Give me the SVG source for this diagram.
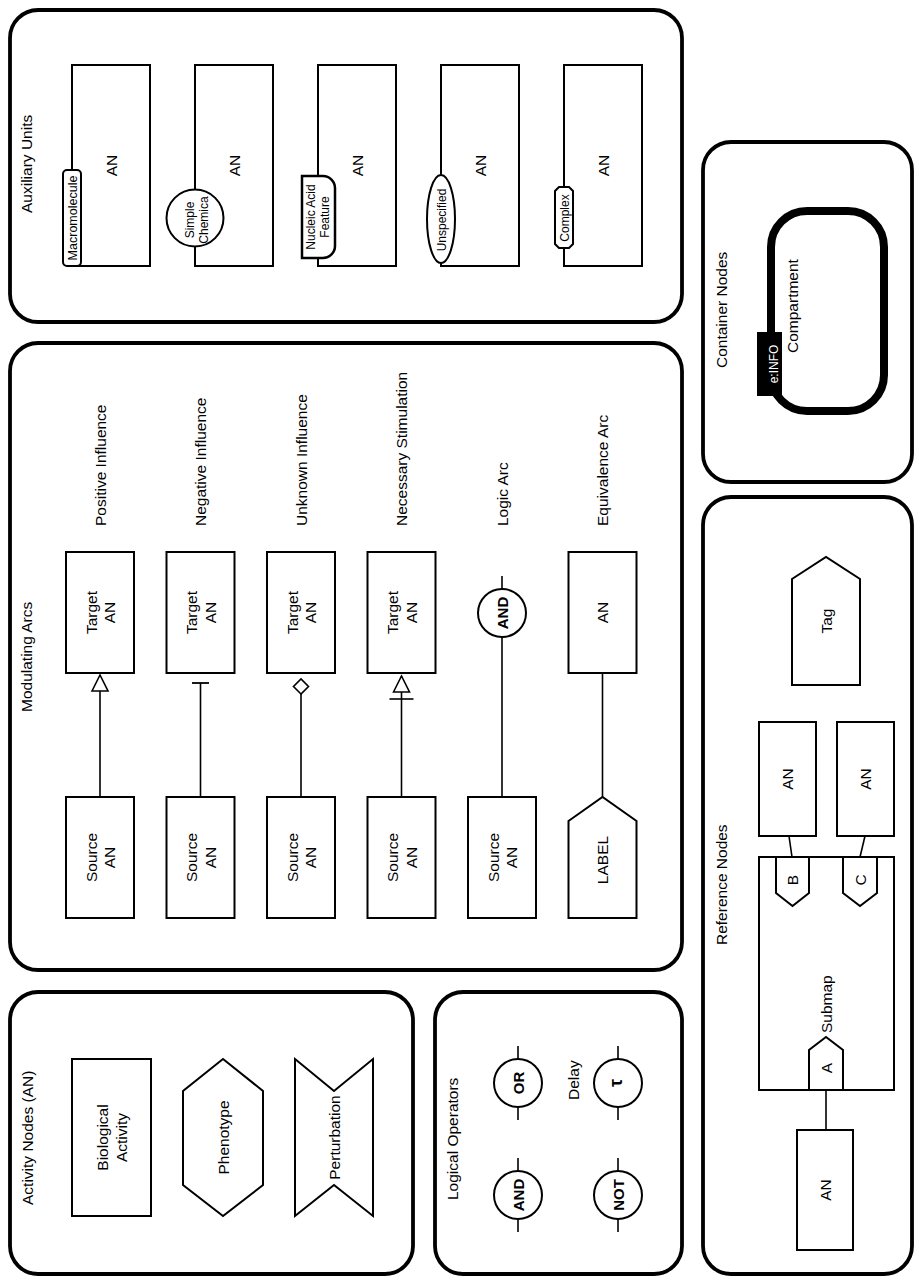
<svg xmlns="http://www.w3.org/2000/svg" width="916" height="1282" viewBox="0 0 916 1282">
<defs>
<style>
.panel{fill:none;stroke:#000;stroke-width:3.8}
.box{fill:#fff;stroke:#000;stroke-width:2}
.aux{fill:#fff;stroke:#000;stroke-width:2}
.ln{fill:none;stroke:#000;stroke-width:1.6}
.t{font-family:"Liberation Sans",Arial,sans-serif;font-size:15.5px;fill:#000}
.s{font-family:"Liberation Sans",Arial,sans-serif;font-size:12px;fill:#000}
.b{font-family:"Liberation Sans",Arial,sans-serif;font-size:15px;font-weight:bold;fill:#000}
</style>
<marker id="tri" markerUnits="userSpaceOnUse" viewBox="0 0 20 20" markerWidth="20" markerHeight="20" refX="18" refY="10" orient="auto"><path d="M2,2 L18,10 L2,18 Z" fill="#fff" stroke="#000" stroke-width="1.6"/></marker>
<marker id="bar" markerUnits="userSpaceOnUse" viewBox="0 0 20 20" markerWidth="20" markerHeight="20" refX="10" refY="10" orient="auto"><path d="M10,1.5 L10,18.5" fill="none" stroke="#000" stroke-width="1.8"/></marker>
<marker id="dia" markerUnits="userSpaceOnUse" viewBox="0 0 20 20" markerWidth="20" markerHeight="20" refX="17.5" refY="10" orient="auto"><path d="M2.5,10 L10,2.5 L17.5,10 L10,17.5 Z" fill="#fff" stroke="#000" stroke-width="1.6"/></marker>
<marker id="nec" markerUnits="userSpaceOnUse" viewBox="0 0 30 30" markerWidth="30" markerHeight="30" refX="28" refY="15" orient="auto"><path d="M5,3 L5,27" fill="none" stroke="#000" stroke-width="1.6"/><path d="M12,7 L28,15 L12,23 Z" fill="#fff" stroke="#000" stroke-width="1.6"/></marker>
</defs>
<rect width="916" height="1282" fill="#fff"/>

<g id="panels">
<rect class="panel" x="10" y="10" width="672" height="312" rx="28"/>
<rect class="panel" x="10" y="343" width="672" height="627" rx="28"/>
<rect class="panel" x="10" y="992" width="403" height="282" rx="28"/>
<rect class="panel" x="435" y="992" width="247" height="282" rx="28"/>
<rect class="panel" x="703" y="142" width="209" height="340" rx="28"/>
<rect class="panel" x="703" y="497" width="209" height="777" rx="28"/>
<text class="t" transform="translate(32,213) rotate(-90)">Auxiliary Units</text>
<text class="t" transform="translate(32,712) rotate(-90)">Modulating Arcs</text>
<text class="t" transform="translate(32.5,1205) rotate(-90)">Activity Nodes (AN)</text>
<text class="t" transform="translate(458,1200) rotate(-90)">Logical Operators</text>
<text class="t" transform="translate(727,368) rotate(-90)">Container Nodes</text>
<text class="t" transform="translate(727,945) rotate(-90)">Reference Nodes</text>
</g>

<g id="connectors">
<line class="ln" x1="100" y1="797" x2="100" y2="675" marker-end="url(#tri)"/>
<line class="ln" x1="200.5" y1="797" x2="200.5" y2="683" marker-end="url(#bar)"/>
<line class="ln" x1="301" y1="797" x2="301" y2="679" marker-end="url(#dia)"/>
<line class="ln" x1="401.5" y1="797" x2="401.5" y2="676" marker-end="url(#nec)"/>
<line class="ln" x1="502" y1="797" x2="502" y2="637"/>
<line class="ln" x1="502" y1="589" x2="502" y2="576"/>
<line class="ln" x1="602.5" y1="673" x2="602.5" y2="797"/>
<line class="ln" x1="518" y1="1046" x2="518" y2="1059"/>
<line class="ln" x1="518" y1="1107" x2="518" y2="1120"/>
<line class="ln" x1="518" y1="1158" x2="518" y2="1171"/>
<line class="ln" x1="518" y1="1219" x2="518" y2="1232"/>
<line class="ln" x1="618" y1="1046" x2="618" y2="1059"/>
<line class="ln" x1="618" y1="1107" x2="618" y2="1120"/>
<line class="ln" x1="618" y1="1158" x2="618" y2="1171"/>
<line class="ln" x1="618" y1="1219" x2="618" y2="1232"/>
<line class="ln" x1="789" y1="836" x2="792" y2="857"/>
<line class="ln" x1="865" y1="836" x2="860" y2="857"/>
<line class="ln" x1="826" y1="1090" x2="826" y2="1130"/>
</g>

<g id="aux-macromolecule">
<rect class="box" x="72" y="65" width="78" height="201"/>
<text class="t" text-anchor="middle" transform="translate(116.5,165.5) rotate(-90)">AN</text>
<rect class="aux" x="63" y="170" width="18" height="96" rx="4"/>
<text class="s" text-anchor="middle" style="font-size:12.5px" transform="translate(76.5,218) rotate(-90)">Macromolecule</text>
</g>
<g id="aux-simple-chemical">
<rect class="box" x="195" y="65" width="78" height="201"/>
<text class="t" text-anchor="middle" transform="translate(239.5,165.5) rotate(-90)">AN</text>
<circle class="aux" cx="195" cy="218" r="28.5"/>
<text class="s" text-anchor="middle" transform="translate(195,220) rotate(-90)"><tspan x="0" y="-1">Simple</tspan><tspan x="0" y="12.5">Chemica</tspan></text>
</g>
<g id="aux-nucleic-acid">
<rect class="box" x="318" y="65" width="78" height="201"/>
<text class="t" text-anchor="middle" transform="translate(362.5,165.5) rotate(-90)">AN</text>
<path class="aux" style="stroke-width:2.5" d="M302,176 H323 A12,12 0 0 1 335,188 V246 A12,12 0 0 1 323,258 H302 Z"/>
<text class="s" text-anchor="middle" transform="translate(318,217) rotate(-90)"><tspan x="0" y="-3">Nucleic Acid</tspan><tspan x="0" y="11">Feature</tspan></text>
</g>
<g id="aux-unspecified">
<rect class="box" x="441" y="65" width="78" height="201"/>
<text class="t" text-anchor="middle" transform="translate(485.5,165.5) rotate(-90)">AN</text>
<ellipse class="aux" cx="441" cy="219" rx="14" ry="44"/>
<text class="s" text-anchor="middle" transform="translate(445.5,220) rotate(-90)">Unspecified</text>
</g>
<g id="aux-complex">
<rect class="box" x="564" y="65" width="78" height="201"/>
<text class="t" text-anchor="middle" transform="translate(608.5,165.5) rotate(-90)">AN</text>
<polygon class="aux" points="559,187 569,187 573,191 573,244 569,248 559,248 555,244 555,191"/>
<text class="s" text-anchor="middle" transform="translate(568.5,218) rotate(-90)">Complex</text>
</g>

<g id="arc-positive">
<rect class="box" x="66" y="552" width="68" height="121"/>
<text class="t" text-anchor="middle" transform="translate(100,612.5) rotate(-90)"><tspan x="0" y="-3.5">Target</tspan><tspan x="0" y="15">AN</tspan></text>
<rect class="box" x="66" y="797" width="68" height="121"/>
<text class="t" text-anchor="middle" transform="translate(100,857.5) rotate(-90)"><tspan x="0" y="-3.5">Source</tspan><tspan x="0" y="15">AN</tspan></text>
<text class="t" transform="translate(105.5,526) rotate(-90)">Positive Influence</text>
</g>
<g id="arc-negative">
<rect class="box" x="166.5" y="552" width="68" height="121"/>
<text class="t" text-anchor="middle" transform="translate(200.5,612.5) rotate(-90)"><tspan x="0" y="-3.5">Target</tspan><tspan x="0" y="15">AN</tspan></text>
<rect class="box" x="166.5" y="797" width="68" height="121"/>
<text class="t" text-anchor="middle" transform="translate(200.5,857.5) rotate(-90)"><tspan x="0" y="-3.5">Source</tspan><tspan x="0" y="15">AN</tspan></text>
<text class="t" transform="translate(206,526) rotate(-90)">Negative Influence</text>
</g>
<g id="arc-unknown">
<rect class="box" x="267" y="552" width="68" height="121"/>
<text class="t" text-anchor="middle" transform="translate(301,612.5) rotate(-90)"><tspan x="0" y="-3.5">Target</tspan><tspan x="0" y="15">AN</tspan></text>
<rect class="box" x="267" y="797" width="68" height="121"/>
<text class="t" text-anchor="middle" transform="translate(301,857.5) rotate(-90)"><tspan x="0" y="-3.5">Source</tspan><tspan x="0" y="15">AN</tspan></text>
<text class="t" transform="translate(306.5,526) rotate(-90)">Unknown Influence</text>
</g>
<g id="arc-necessary">
<rect class="box" x="367.5" y="552" width="68" height="121"/>
<text class="t" text-anchor="middle" transform="translate(401.5,612.5) rotate(-90)"><tspan x="0" y="-3.5">Target</tspan><tspan x="0" y="15">AN</tspan></text>
<rect class="box" x="367.5" y="797" width="68" height="121"/>
<text class="t" text-anchor="middle" transform="translate(401.5,857.5) rotate(-90)"><tspan x="0" y="-3.5">Source</tspan><tspan x="0" y="15">AN</tspan></text>
<text class="t" transform="translate(407,526) rotate(-90)">Necessary Stimulation</text>
</g>
<g id="arc-logic">
<circle class="box" cx="502" cy="613" r="24"/>
<text class="b" text-anchor="middle" transform="translate(507.5,613) rotate(-90)">AND</text>
<rect class="box" x="468" y="797" width="68" height="121"/>
<text class="t" text-anchor="middle" transform="translate(502,857.5) rotate(-90)"><tspan x="0" y="-3.5">Source</tspan><tspan x="0" y="15">AN</tspan></text>
<text class="t" transform="translate(507.5,526) rotate(-90)">Logic Arc</text>
</g>
<g id="arc-equivalence">
<rect class="box" x="568.5" y="552" width="68" height="121"/>
<text class="t" text-anchor="middle" transform="translate(608,612.5) rotate(-90)">AN</text>
<polygon class="box" points="568.5,821 602.5,797 636.5,821 636.5,918 568.5,918"/>
<text class="t" text-anchor="middle" transform="translate(608,860) rotate(-90)">LABEL</text>
<text class="t" transform="translate(608,526) rotate(-90)">Equivalence Arc</text>
</g>

<g id="an-biological-activity">
<rect class="box" x="72" y="1059" width="79" height="157"/>
<text class="t" text-anchor="middle" transform="translate(111.5,1137.5) rotate(-90)"><tspan x="0" y="-4">Biological</tspan><tspan x="0" y="15.5">Activity</tspan></text>
</g>
<g id="an-phenotype">
<polygon class="box" points="223,1059 263,1091 263,1185 223,1216 183,1185 183,1091"/>
<text class="t" text-anchor="middle" transform="translate(228.5,1137.5) rotate(-90)">Phenotype</text>
</g>
<g id="an-perturbation">
<polygon class="box" points="295,1059 334,1091 373,1059 373,1216 334,1185 295,1216"/>
<text class="t" text-anchor="middle" transform="translate(339.5,1137.5) rotate(-90)">Perturbation</text>
</g>

<g id="op-or">
<circle class="box" cx="518" cy="1083" r="24"/>
<text class="b" text-anchor="middle" transform="translate(523.5,1083) rotate(-90)">OR</text>
</g>
<g id="op-and">
<circle class="box" cx="518" cy="1195" r="24"/>
<text class="b" text-anchor="middle" transform="translate(523.5,1195) rotate(-90)">AND</text>
</g>
<g id="op-delay">
<circle class="box" cx="618" cy="1083" r="24"/>
<text class="b" text-anchor="middle" style="font-size:18px" transform="translate(622,1083) rotate(-90)">τ</text>
<text class="t" transform="translate(579,1100) rotate(-90)">Delay</text>
</g>
<g id="op-not">
<circle class="box" cx="618" cy="1195" r="24"/>
<text class="b" text-anchor="middle" transform="translate(623.5,1195) rotate(-90)">NOT</text>
</g>

<g id="compartment">
<rect x="771" y="211" width="113" height="200" rx="36" fill="none" stroke="#000" stroke-width="8"/>
<text class="t" transform="translate(798,353) rotate(-90)">Compartment</text>
<rect x="757" y="332" width="25" height="64" fill="#000"/>
<text class="s" text-anchor="middle" style="fill:#fff" transform="translate(777.5,364) rotate(-90)">e:INFO</text>
</g>

<g id="ref-tag">
<polygon class="box" points="792,579 826,557 860,579 860,685 792,685"/>
<text class="t" text-anchor="middle" transform="translate(831.5,621) rotate(-90)">Tag</text>
</g>
<g id="ref-an-1">
<rect class="box" x="759" y="722" width="57" height="114"/>
<text class="t" text-anchor="middle" transform="translate(793,779) rotate(-90)">AN</text>
</g>
<g id="ref-an-2">
<rect class="box" x="837" y="722" width="57" height="114"/>
<text class="t" text-anchor="middle" transform="translate(871,779) rotate(-90)">AN</text>
</g>
<g id="ref-submap">
<rect class="box" x="759" y="857" width="135" height="233"/>
<text class="t" transform="translate(832,1033) rotate(-90)">Submap</text>
<polygon class="box" points="776,857 809,857 809,893 792.5,906 776,893"/>
<text class="t" text-anchor="middle" transform="translate(798,880) rotate(-90)">B</text>
<polygon class="box" points="843,857 877,857 877,893 860,906 843,893"/>
<text class="t" text-anchor="middle" transform="translate(865.5,880) rotate(-90)">C</text>
<polygon class="box" points="809,1090 809,1050 826,1037 843,1050 843,1090"/>
<text class="t" text-anchor="middle" transform="translate(831.5,1068) rotate(-90)">A</text>
</g>
<g id="ref-an-3">
<rect class="box" x="797" y="1130" width="56" height="120"/>
<text class="t" text-anchor="middle" transform="translate(830.5,1190) rotate(-90)">AN</text>
</g>
</svg>
